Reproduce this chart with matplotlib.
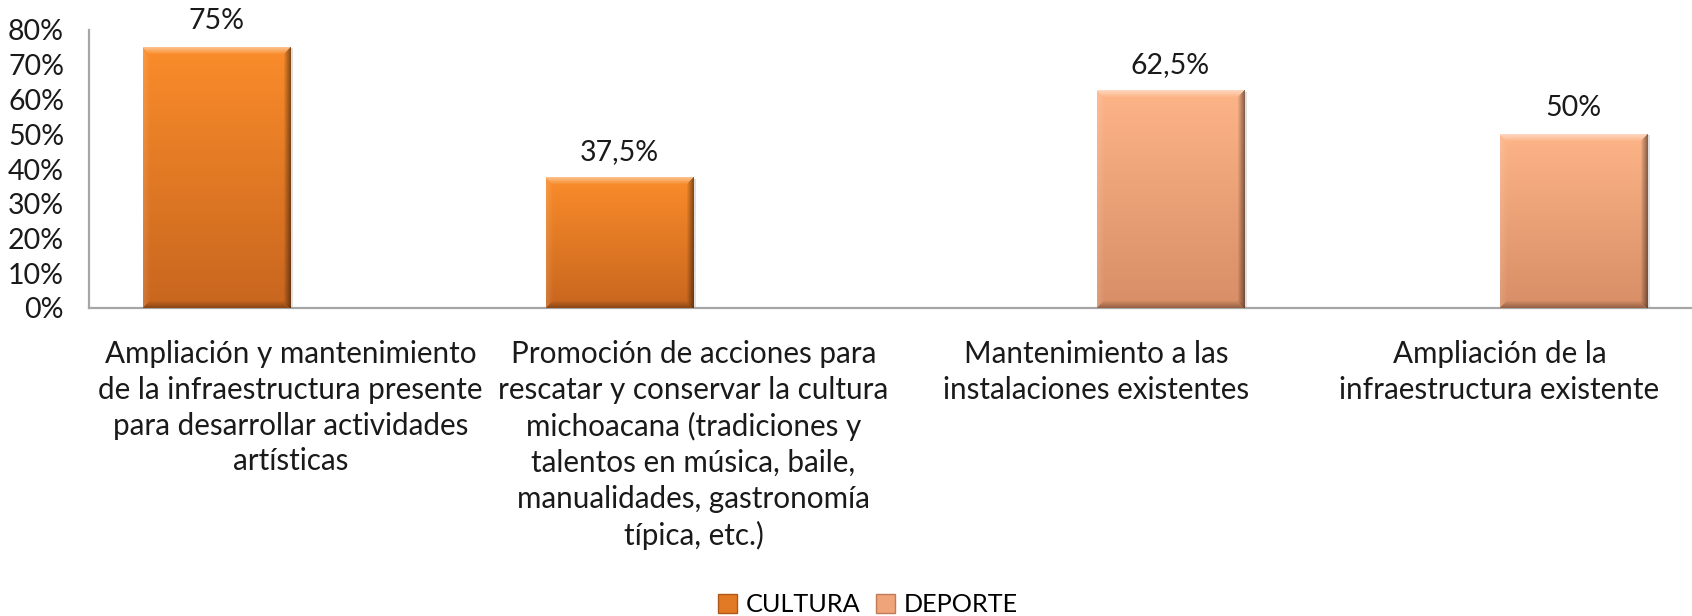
import numpy as np
import matplotlib
matplotlib.use("Agg")
import matplotlib.pyplot as plt
from matplotlib.patches import Patch
from matplotlib.colors import to_rgb
from matplotlib.transforms import blended_transform_factory

plt.rcParams['font.family'] = ['Lato', 'DejaVu Sans']

categories = [
    "Ampliación y mantenimiento\nde la infraestructura presente\npara desarrollar actividades\nartísticas",
    "Promoción de acciones para\nrescatar y conservar la cultura\nmichoacana (tradiciones y\ntalentos en música, baile,\nmanualidades, gastronomía\ntípica, etc.)",
    "Mantenimiento a las\ninstalaciones existentes",
    "Ampliación de la\ninfraestructura existente",
]
series_names = ["CULTURA", "DEPORTE"]
cultura = [75.0, 37.5, np.nan, np.nan]
deporte = [np.nan, np.nan, 62.5, 50.0]
y_ticks = [0, 10, 20, 30, 40, 50, 60, 70, 80]

col_top = {"CULTURA": "#FA8C2A", "DEPORTE": "#FDB487"}
col_bot = {"CULTURA": "#C8661F", "DEPORTE": "#D88E66"}

W, H = 1692, 616
fig = plt.figure(figsize=(W / 100, H / 100), dpi=100)
ax = fig.add_axes([89 / W, 308 / H, 1612 / W, 278 / H])
ax.set_xlim(-0.5, len(categories) - 0.5)
ax.set_ylim(0, 80)

bw = 0.367
x = np.arange(len(categories))
bars_c = ax.bar(x - bw / 2, cultura, bw, color=col_top["CULTURA"], zorder=2)
bars_d = ax.bar(x + bw / 2, deporte, bw, color=col_top["DEPORTE"], zorder=2)


def bevel_image(name, nw, nh, bev=7):
    top = np.array(to_rgb(col_top[name]))
    bot = np.array(to_rgb(col_bot[name]))
    t = np.linspace(0, 1, nh)[:, None, None]
    img = top[None, None, :] * (1 - t) + bot[None, None, :] * t
    img = np.repeat(img, nw, axis=1).copy()
    yy, xx = np.mgrid[0:nh, 0:nw]
    m_top = (yy < bev) & (xx >= yy) & (xx < nw - yy)
    ramp = (1 - yy / bev) * 0.45
    img[m_top] = img[m_top] + (1 - img[m_top]) * ramp[m_top][:, None]
    m_left = (xx < bev) & (yy >= xx) & (yy < nh - xx)
    rl = (1 - xx / bev) * 0.12
    img[m_left] = img[m_left] + (1 - img[m_left]) * rl[m_left][:, None]
    dx = nw - 1 - xx
    m_right = (dx < bev) & (yy >= dx) & (yy < nh - dx)
    rr = (1 - dx / bev) * 0.45
    img[m_right] = img[m_right] * (1 - rr[m_right][:, None])
    dy = nh - 1 - yy
    m_bot = (dy < bev) & (xx >= dy) & (xx < nw - dy)
    rb = (1 - dy / bev) * 0.30
    img[m_bot] = img[m_bot] * (1 - rb[m_bot][:, None])
    return np.clip(img, 0, 1)


def fill_gradient(bars, name):
    for b in bars:
        h = b.get_height()
        if not np.isfinite(h) or h <= 0:
            continue
        x0, y0 = b.get_x(), b.get_y()
        w = b.get_width()
        (px0, py0) = ax.transData.transform((x0, y0))
        (px1, py1) = ax.transData.transform((x0 + w, y0 + h))
        nw, nh = int(round(px1 - px0)), int(round(py1 - py0))
        img = bevel_image(name, nw, nh)
        ax.imshow(img, extent=(x0, x0 + w, y0, y0 + h), aspect='auto',
                  zorder=3, interpolation='bilinear')
        ax.bar(b.get_x() + b.get_width() / 2 + 0.006, h, w, bottom=-0.3,
               color="#000000", alpha=0.12, zorder=1.5)


fill_gradient(bars_c, "CULTURA")
fill_gradient(bars_d, "DEPORTE")
ax.set_xlim(-0.5, len(categories) - 0.5)
ax.set_ylim(0, 80)


def fmt(v):
    s = ("%g" % v).replace(".", ",")
    return s + "%"


for bars, vals in ((bars_c, cultura), (bars_d, deporte)):
    for b, v in zip(bars, vals):
        if np.isfinite(v):
            ax.annotate(fmt(v), (b.get_x() + b.get_width() / 2, v),
                        xytext=(0, 13), textcoords='offset pixels',
                        ha='center', va='bottom', fontsize=20.5, color="#1a1a1a")

ax.set_yticks(y_ticks)
ax.set_yticklabels([f"{t}%" for t in y_ticks], fontsize=20.5, color="#1a1a1a")
ax.tick_params(axis='y', length=0, pad=18)
ax.set_xticks([])

trans = blended_transform_factory(ax.transData, fig.transFigure)
for i, lab in enumerate(categories):
    ax.text(i, 1 - 340 / H, lab, transform=trans, ha='center', va='top',
            fontsize=21.3, linespacing=1.34, color="#1a1a1a", clip_on=False)

for s in ("top", "right"):
    ax.spines[s].set_visible(False)
for s in ("left", "bottom"):
    ax.spines[s].set_color("#A6A6A6")
    ax.spines[s].set_linewidth(1.6)
ax.set_facecolor("none")

handles = [Patch(facecolor="#E27A25", edgecolor="#B0581A", label=series_names[0]),
           Patch(facecolor="#F0A47A", edgecolor="#C07A55", label=series_names[1])]
fig.legend(handles=handles, loc='center', bbox_to_anchor=(868 / W, 1 - 605 / H),
           ncol=2, frameon=False, fontsize=18.2, handlelength=0.75, handleheight=0.75,
           handletextpad=0.35, columnspacing=0.6, borderaxespad=0, borderpad=0)

fig.savefig("out.png", dpi=100)
